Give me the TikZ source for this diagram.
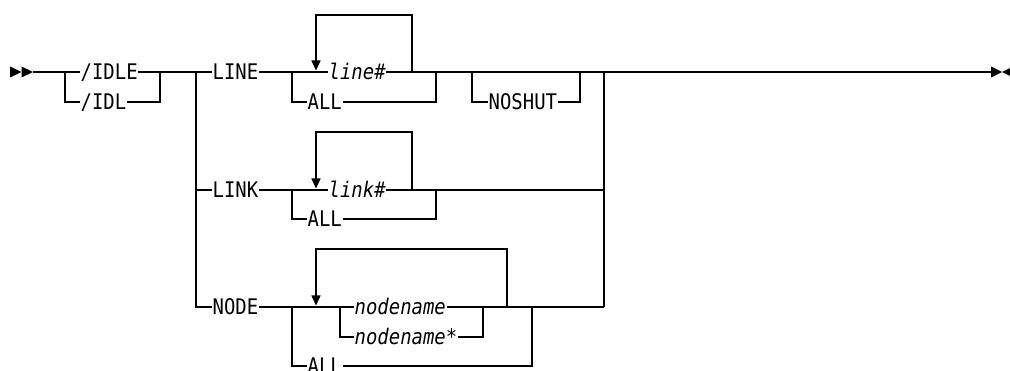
\documentclass[tikz,border=0pt]{standalone}
\usepackage{fontspec}
\setmainfont{DejaVu Sans Mono}[FakeStretch=0.88]
\usetikzlibrary{arrows.meta}
\tikzset{
  lbl/.style={anchor=west, inner xsep=0.5pt, inner ysep=0pt, text height=15.6pt, text depth=0pt, font=\fontsize{21.5}{25}\selectfont},
  itl/.style={lbl, font=\fontsize{21.5}{25}\selectfont\itshape},
  rail/.style={line width=1.3pt, line join=miter},
  loopar/.style={rail, -{Triangle[width=9pt,length=10pt]}},
  tri/.style={fill=black, draw=none}
}
\begin{document}
\begin{tikzpicture}[x=1pt,y=-1pt]
\useasboundingbox (0,0) rectangle (1010,371);
% start and end symbols
\fill[tri] (10,66.5) -- (21.5,72) -- (10,77.5) -- cycle;
\fill[tri] (21.5,66.5) -- (33,72) -- (21.5,77.5) -- cycle;
\fill[tri] (991,66.5) -- (1002,72) -- (991,77.5) -- cycle;
\fill[tri] (1002,72) -- (1013,66.5) -- (1013,77.5) -- cycle;
% coordinates
\coordinate (s) at (33,72);
\coordinate (j1) at (65,72);  \coordinate (j1b) at (65,102);
\coordinate (j2) at (160,72); \coordinate (j2b) at (160,102);
\coordinate (j3) at (196,72); \coordinate (j3k) at (196,190); \coordinate (j3n) at (196,307);
\coordinate (j5) at (604,72); \coordinate (j5k) at (604,190); \coordinate (j5n) at (604,307);
\coordinate (e) at (991,72);
% labels
\node[lbl] (idle) at (80,72) {/IDLE};
\node[lbl] (idl) at (80,102) {/IDL};
\node[lbl] (line) at (212,72) {LINE};
\node[lbl] (link) at (212,190) {LINK};
\node[lbl] (node) at (212,307) {NODE};
% first part
\draw[rail] (s) -- (j1) -- (idle);
\draw[rail] (j1) -- (j1b) -- (idl);
\draw[rail] (idle) -- (j2) -- (j3) -- (line);
\draw[rail] (idl) -- (j2b) -- (j2);
\draw[rail] (j3) -- (j3n) -- (node);
\draw[rail] (j3k) -- (link);
% LINE row
\coordinate (a1) at (292,72);  \coordinate (a1b) at (292,102);
\coordinate (a2) at (412,72);  \coordinate (a2t) at (412,15);
\coordinate (a3t) at (316,15); \coordinate (a3) at (316,70.5);
\coordinate (a4) at (436,72);  \coordinate (a4b) at (436,102);
\node[itl] (lnum) at (328,72) {line\#};
\node[lbl] (all1) at (307,102) {ALL};
\draw[rail] (line) -- (a1) -- (lnum) -- (a2) -- (a4);
\draw[rail] (a1) -- (a1b) -- (all1) -- (a4b) -- (a4);
\draw[loopar] (a2) -- (a2t) -- (a3t) -- (a3);
% NOSHUT
\coordinate (n1) at (472,72);  \coordinate (n1b) at (472,102);
\coordinate (n2) at (580,72);  \coordinate (n2b) at (580,102);
\node[lbl] (noshut) at (488,102) {NOSHUT};
\draw[rail] (a4) -- (n1) -- (n2) -- (j5) -- (e);
\draw[rail] (n1) -- (n1b) -- (noshut) -- (n2b) -- (n2);
\draw[rail] (j5) -- (j5n);
% LINK row
\coordinate (b1) at (292,190);  \coordinate (b1b) at (292,219);
\coordinate (b2) at (412,190);  \coordinate (b2t) at (412,132);
\coordinate (b3t) at (316,132); \coordinate (b3) at (316,188.5);
\coordinate (b4) at (436,190);  \coordinate (b4b) at (436,219);
\node[itl] (knum) at (328,190) {link\#};
\node[lbl] (all2) at (307,219) {ALL};
\draw[rail] (link) -- (b1) -- (knum) -- (b2) -- (b4) -- (j5k);
\draw[rail] (b1) -- (b1b) -- (all2) -- (b4b) -- (b4);
\draw[loopar] (b2) -- (b2t) -- (b3t) -- (b3);
% NODE row
\coordinate (c1) at (292,307);  \coordinate (c1b) at (292,366);
\coordinate (c5) at (340,307);  \coordinate (c5b) at (340,337);
\coordinate (c6) at (483,307);  \coordinate (c6b) at (483,337);
\coordinate (c2) at (507,307);  \coordinate (c2t) at (507,249);
\coordinate (c3t) at (316,249); \coordinate (c3) at (316,305.5);
\coordinate (c7) at (532,307);  \coordinate (c7b) at (532,366);
\node[itl] (nn) at (354,307) {nodename};
\node[itl] (nns) at (354,337) {nodename*};
\node[lbl] (all3) at (307,366) {ALL};
\draw[rail] (node) -- (c1) -- (c5) -- (nn) -- (c6) -- (c2) -- (c7) -- (j5n);
\draw[rail] (c5) -- (c5b) -- (nns) -- (c6b) -- (c6);
\draw[rail] (c1) -- (c1b) -- (all3) -- (c7b) -- (c7);
\draw[loopar] (c2) -- (c2t) -- (c3t) -- (c3);
\end{tikzpicture}
\end{document}
